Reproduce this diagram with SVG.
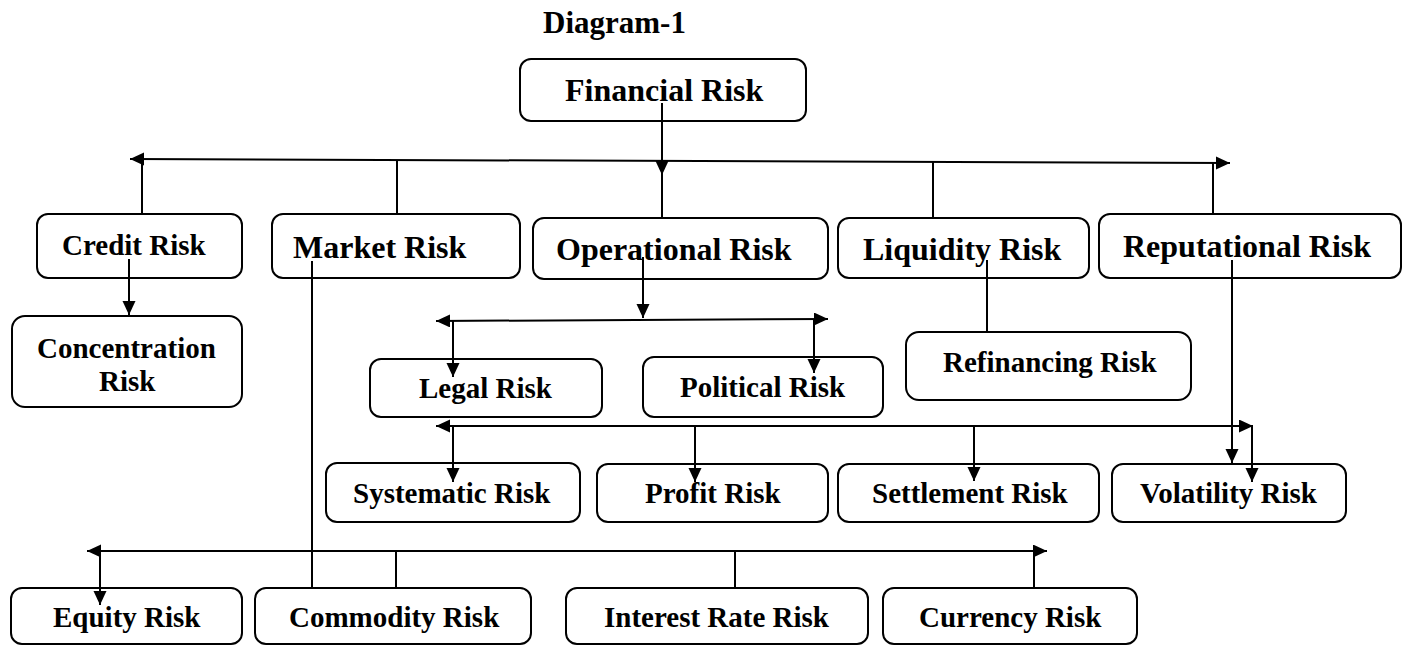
<svg xmlns="http://www.w3.org/2000/svg" width="1403" height="645" viewBox="0 0 1403 645">
<style>
.box{fill:#fff;stroke:#000;stroke-width:2}
.t{font-family:"Liberation Serif","Times New Roman",serif;font-weight:bold;fill:#000}
.s29{font-size:29px}
.s32{font-size:32px}
.c{fill:none;stroke:#000;stroke-width:2}
.a{marker-end:url(#ah)}
.b{marker-start:url(#ah);marker-end:url(#ah)}
</style>
<defs>
<marker id="ah" markerUnits="userSpaceOnUse" markerWidth="15" markerHeight="14" refX="14" refY="6.5" orient="auto-start-reverse" viewBox="0 0 15 14">
<path d="M0,0 L14,6.5 L0,13 z" fill="#000"/>
</marker>
</defs>
<rect width="1403" height="645" fill="#fff"/>
<text class="t" x="543" y="33" font-size="31">Diagram-1</text>

<g id="financial"><rect class="box" x="520" y="59" width="286" height="62" rx="11"/><text class="t" x="565" y="101" font-size="32">Financial Risk</text></g>
<g id="credit"><rect class="box" x="37" y="214" width="205" height="64" rx="11"/><text class="t s29" x="62" y="255">Credit Risk</text></g>
<g id="market"><rect class="box" x="272" y="214" width="248" height="64" rx="11"/><text class="t s32" x="293" y="258">Market Risk</text></g>
<g id="operational"><rect class="box" x="533" y="218" width="295" height="61" rx="11"/><text class="t s32" x="556" y="260">Operational Risk</text></g>
<g id="liquidity"><rect class="box" x="838" y="218" width="251" height="60" rx="11"/><text class="t s32" x="863" y="260">Liquidity Risk</text></g>
<g id="reputational"><rect class="box" x="1099" y="214" width="302" height="64" rx="11"/><text class="t s32" x="1123" y="257">Reputational Risk</text></g>
<g id="concentration"><rect class="box" x="12" y="316" width="230" height="91" rx="13"/><text class="t s29" x="37" y="358">Concentration</text><text class="t s29" x="99" y="391">Risk</text></g>
<g id="legal"><rect class="box" x="370" y="359" width="232" height="58" rx="11"/><text class="t s29" x="419" y="398">Legal Risk</text></g>
<g id="political"><rect class="box" x="643" y="357" width="240" height="60" rx="11"/><text class="t s29" x="680" y="397">Political Risk</text></g>
<g id="refinancing"><rect class="box" x="906" y="332" width="285" height="68" rx="13"/><text class="t s29" x="943" y="372">Refinancing Risk</text></g>
<g id="systematic"><rect class="box" x="326" y="463" width="254" height="59" rx="11"/><text class="t s29" x="353" y="503">Systematic Risk</text></g>
<g id="profit"><rect class="box" x="597" y="464" width="231" height="58" rx="11"/><text class="t s29" x="645" y="503">Profit Risk</text></g>
<g id="settlement"><rect class="box" x="838" y="464" width="261" height="58" rx="11"/><text class="t s29" x="872" y="503">Settlement Risk</text></g>
<g id="volatility"><rect class="box" x="1112" y="464" width="234" height="58" rx="11"/><text class="t s29" x="1140" y="503">Volatility Risk</text></g>
<g id="equity"><rect class="box" x="11" y="588" width="231" height="56" rx="11"/><text class="t s29" x="53" y="627">Equity Risk</text></g>
<g id="commodity"><rect class="box" x="255" y="588" width="276" height="56" rx="11"/><text class="t s29" x="289" y="627">Commodity Risk</text></g>
<g id="interest"><rect class="box" x="566" y="588" width="302" height="56" rx="11"/><text class="t s29" x="604" y="627">Interest Rate Risk</text></g>
<g id="currency"><rect class="box" x="883" y="588" width="254" height="56" rx="11"/><text class="t s29" x="919" y="627">Currency Risk</text></g>

<g id="connectors">
<path class="c a" d="M662,103 V175"/>
<path class="c" d="M662,175 V218"/>
<path class="c b" d="M130,159 L1230,163"/>
<path class="c" d="M142,159 V214"/>
<path class="c" d="M397,160 V214"/>
<path class="c" d="M933,162 V218"/>
<path class="c" d="M1213,163 V214"/>
<path class="c a" d="M129,259 V315"/>
<path class="c a" d="M643,257 V318"/>
<path class="c b" d="M436,321 L828,319"/>
<path class="c a" d="M453,321 V377"/>
<path class="c a" d="M814,319 V373"/>
<path class="c" d="M987,260 V332"/>
<path class="c b" d="M436,426 L1253,426"/>
<path class="c a" d="M453,426 V482"/>
<path class="c a" d="M695,426 V482"/>
<path class="c a" d="M974,426 V481"/>
<path class="c a" d="M1252,426 V482"/>
<path class="c a" d="M1232,260 V463"/>
<path class="c" d="M312,261 V588"/>
<path class="c b" d="M87,551 L1047,551"/>
<path class="c a" d="M100,551 V605"/>
<path class="c" d="M396,551 V588"/>
<path class="c" d="M735,551 V588"/>
<path class="c" d="M1034,551 V588"/>
</g>
</svg>
